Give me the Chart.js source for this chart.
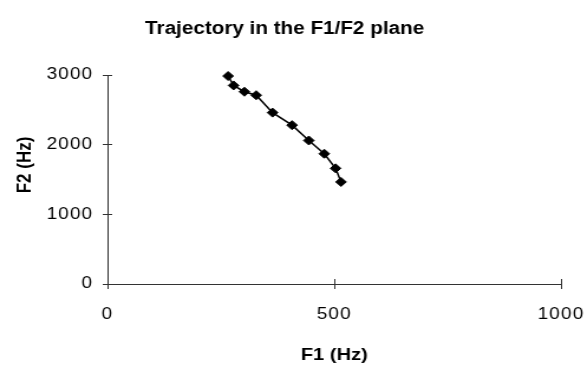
<!DOCTYPE html>
<html>
<head>
<meta charset="utf-8">
<script src="https://cdn.jsdelivr.net/npm/chart.js@4.4.0/dist/chart.umd.min.js"></script>
<style>
  html, body { margin: 0; padding: 0; background: #fff; overflow: hidden; }
  #wrap { width: 497px; height: 368px; transform: scaleX(1.181); transform-origin: 0 0; }
</style>
</head>
<body>
<div id="wrap"><canvas id="chart" width="497" height="368"></canvas></div>
<script>
// formant trajectory: F1 / F2 pairs in Hz
const f1Values = [266, 278, 302, 328, 364, 407, 444, 478, 503, 515];
const f2Values = [2985, 2850, 2760, 2710, 2460, 2280, 2060, 1870, 1660, 1465];
const f1Ticks = [0, 500, 1000];
const f2Ticks = [0, 1000, 2000, 3000];
const titleText = 'Trajectory in the F1/F2 plane';
const xTitle = 'F1 (Hz)';
const yTitle = 'F2 (Hz)';

const FONT = '"Liberation Sans", Arial, sans-serif';
const AXIS = '#333';

// tick labels are drawn a little spread out
const spacing = {
  id: 'spacing',
  beforeLayout(chart) { chart.ctx.letterSpacing = '1px'; },
  beforeDraw(chart) { chart.ctx.letterSpacing = '1px'; }
};

// chart title, axis titles and the inner half of each tick mark
const decorations = {
  id: 'decorations',
  afterDraw(chart) {
    const { ctx, chartArea } = chart;
    const xs = chart.scales.x;
    const ys = chart.scales.y;
    const align = p => Math.round(p - 0.5) + 0.5;

    ctx.save();
    ctx.strokeStyle = AXIS;
    ctx.lineWidth = 1;
    ctx.beginPath();
    f1Ticks.forEach(v => {
      const px = align(xs.getPixelForValue(v));
      ctx.moveTo(px, chartArea.bottom);
      ctx.lineTo(px, chartArea.bottom - 5);
    });
    f2Ticks.forEach(v => {
      const py = align(ys.getPixelForValue(v));
      ctx.moveTo(chartArea.left, py);
      ctx.lineTo(chartArea.left + 4, py);
    });
    ctx.stroke();

    ctx.letterSpacing = '0px';
    ctx.fillStyle = '#000';
    ctx.textAlign = 'center';
    ctx.textBaseline = 'middle';
    ctx.font = `bold 17.5px ${FONT}`;
    ctx.fillText(titleText, 241, 29);
    ctx.font = `bold 17px ${FONT}`;
    ctx.fillText(xTitle, (chartArea.left + chartArea.right) / 2, 355);
    ctx.translate(21, 165);
    ctx.rotate(-Math.PI / 2);
    ctx.fillText(yTitle, 0, 0);
    ctx.restore();
  }
};

const plain = v => String(v);

new Chart(document.getElementById('chart'), {
  type: 'scatter',
  data: {
    datasets: [{
      data: f1Values.map((x, i) => ({ x, y: f2Values[i] })),
      showLine: true,
      borderColor: '#000',
      borderWidth: 1.5,
      pointStyle: 'rectRot',
      pointRadius: 4.5,
      pointBackgroundColor: '#000',
      pointBorderColor: '#000',
      pointBorderWidth: 1,
      clip: false
    }]
  },
  options: {
    responsive: false,
    animation: false,
    layout: { padding: { left: 0, right: 22, top: 75, bottom: 0 } },
    plugins: {
      legend: { display: false },
      tooltip: { enabled: false },
      title: { display: false }
    },
    scales: {
      x: {
        type: 'linear',
        min: 0,
        max: 1000,
        afterBuildTicks: s => { s.ticks = f1Ticks.map(v => ({ value: v })); },
        afterFit: s => {
          s.height = 84;
          s.paddingLeft = 0;
          s.paddingRight = 0;
        },
        grid: { drawOnChartArea: false, tickLength: 5, color: AXIS },
        border: { color: AXIS, width: 1 },
        ticks: { color: '#000', font: { family: FONT, size: 16 }, padding: 16, maxRotation: 0, autoSkip: false, callback: plain }
      },
      y: {
        type: 'linear',
        min: 0,
        max: 3000,
        afterBuildTicks: s => { s.ticks = f2Ticks.map(v => ({ value: v })); },
        afterFit: s => { s.width = 91; },
        grid: { drawOnChartArea: false, tickLength: 4, color: AXIS },
        border: { color: AXIS, width: 1 },
        ticks: { color: '#000', font: { family: FONT, size: 16 }, padding: 8, autoSkip: false, callback: plain }
      }
    }
  },
  plugins: [spacing, decorations]
});
</script>
</body>
</html>
